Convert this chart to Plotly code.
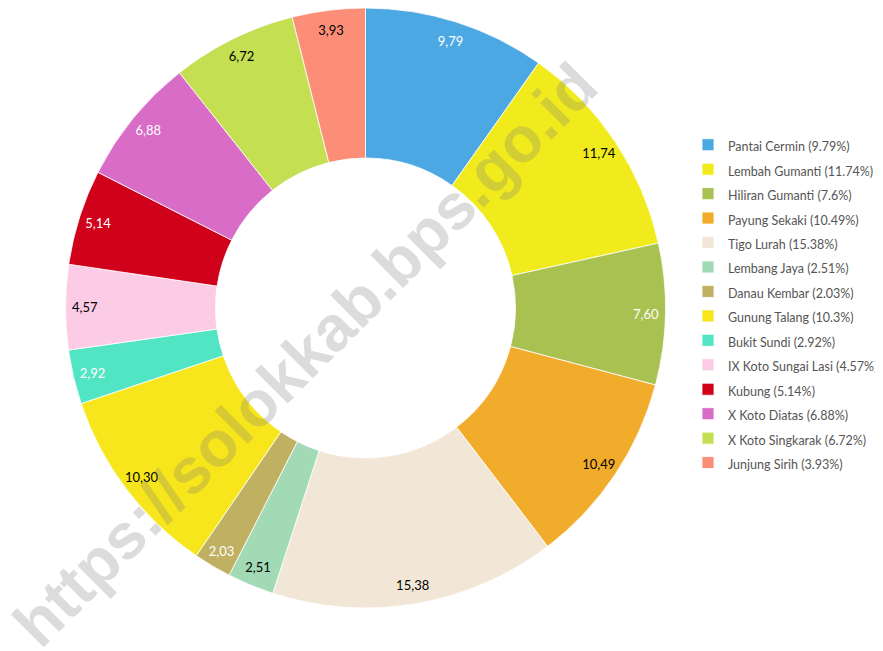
import plotly.graph_objects as go

districts = ["Pantai Cermin", "Lembah Gumanti", "Hiliran Gumanti", "Payung Sekaki",
             "Tigo Lurah", "Lembang Jaya", "Danau Kembar", "Gunung Talang",
             "Bukit Sundi", "IX Koto Sungai Lasi", "Kubung", "X Koto Diatas",
             "X Koto Singkarak", "Junjung Sirih"]
values = [9.79, 11.74, 7.6, 10.49, 15.38, 2.51, 2.03, 10.3, 2.92, 4.57, 5.14, 6.88, 6.72, 3.93]
colors = ["#4BA8E3", "#F1EB1E", "#A8C150", "#F2AC2C", "#F2E7D7", "#A2DAB6", "#C0B062",
          "#F7E61C", "#52E5C4", "#FCCBE5", "#D0021B", "#D86CC7", "#C4DF52", "#FC8E78"]
label_colors = ["#ffffff", "#000000", "#ffffff", "#000000", "#000000", "#000000", "#ffffff",
                "#000000", "#ffffff", "#000000", "#ffffff", "#ffffff", "#000000", "#000000"]

labels = [f'<span style="font-size:12.5px">{d} ({v:g}%)</span>' for d, v in zip(districts, values)]

W, H = 883, 651
OFF = 8  # the page body offsets the figure by 8px
cx, cy, R = 365.5 - OFF, 300.0, 300.0
dom_x = [max(0, (cx - R) / W), min(1, (cx + R) / W)]
dom_y = [max(0, 1 - (cy + R) / H), min(1, 1 - (cy - R) / H)]

fig = go.Figure()
fig.add_trace(go.Pie(
    labels=labels, values=values, sort=False, direction="clockwise", rotation=0,
    hole=0.5, domain=dict(x=dom_x, y=dom_y),
    marker=dict(colors=colors, line=dict(color="#ffffff", width=0.8)),
    textinfo="none", hoverinfo="label+value",
))
fig.add_trace(go.Pie(
    labels=labels, values=values, sort=False, direction="clockwise", rotation=0,
    hole=0.87, domain=dict(x=dom_x, y=dom_y),
    marker=dict(colors=["rgba(0,0,0,0)"] * len(values)),
    texttemplate="%{value:.2f}", textposition="inside", insidetextorientation="horizontal",
    textfont=dict(family="Lato", size=13, color=label_colors),
    showlegend=False, hoverinfo="skip",
))

fig.update_layout(
    width=W, height=H,
    margin=dict(l=0, r=0, t=0, b=0, autoexpand=False),
    paper_bgcolor="white", plot_bgcolor="white",
    separators=", ",
    uniformtext=dict(mode="show", minsize=13),
    legend=dict(x=680 / W, y=1 - 296 / H, xanchor="left", yanchor="middle",
                font=dict(family="Lato", size=16.5, color="#555555")),
    annotations=[dict(
        text="https://solokkab.bps.go.id", xref="paper", yref="paper",
        x=(305 - OFF) / W, y=1 - (355 - OFF) / H, xanchor="center", yanchor="middle",
        textangle=-45, showarrow=False,
        font=dict(family="Liberation Sans", size=64, color="rgba(120,120,120,0.26)", weight="bold"),
    )],
)

fig.write_html("out.html")
